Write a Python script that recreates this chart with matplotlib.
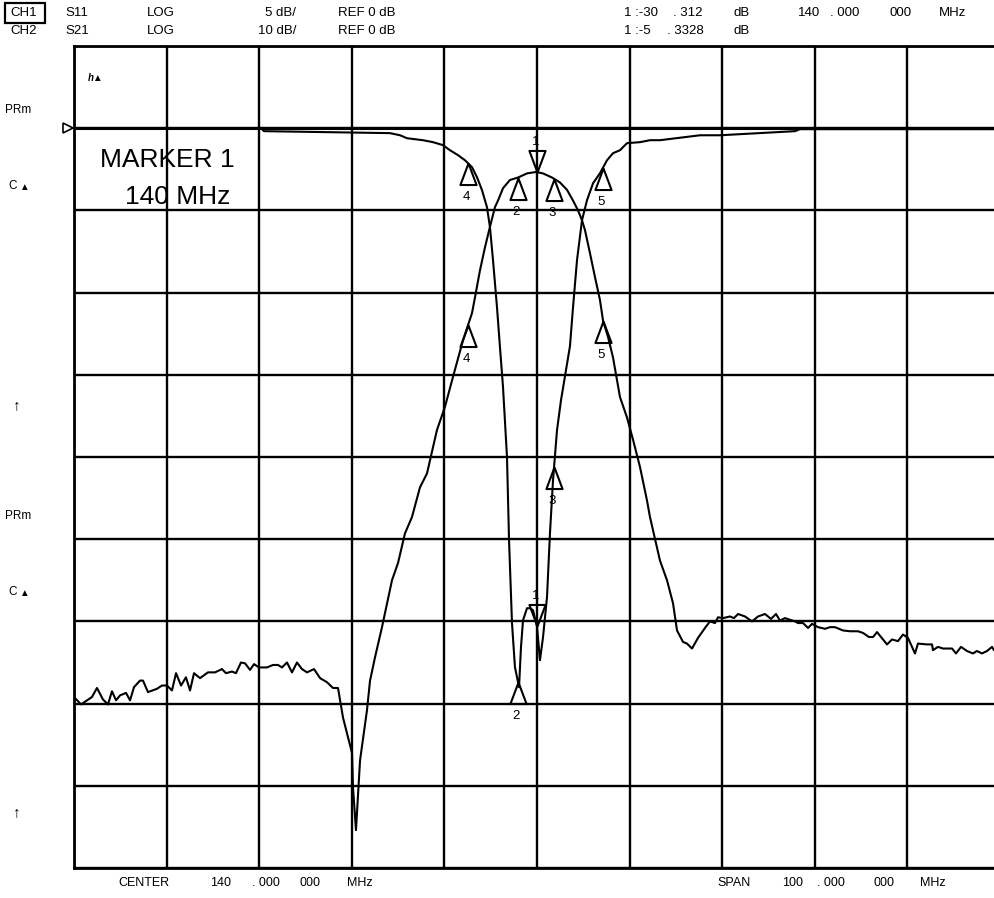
import numpy as np
import matplotlib
matplotlib.use("Agg")
import matplotlib.pyplot as plt

plt.rcParams['font.family'] = ['Liberation Sans', 'DejaVu Sans']

W, H = 994, 898

# CH2 S21 trace (MHz, dB), 10 dB/div
s21_freq = [90.00, 90.76, 91.94, 92.48, 93.13, 93.67, 94.10, 94.54, 94.97, 95.62,
            96.05, 96.48, 97.13, 97.45, 97.99, 98.96, 99.50, 100.04, 100.58, 101.02,
            101.56, 102.09, 102.53, 102.96, 103.61, 104.47, 105.23, 105.98, 106.41, 107.06,
            107.49, 108.03, 108.47, 109.01, 109.44, 109.98, 110.84, 111.49, 112.03, 112.46,
            113.00, 113.54, 114.08, 114.62, 115.16, 115.92, 116.57, 117.32, 117.97, 118.51,
            119.05, 120.02, 120.13, 120.45, 120.89, 121.64, 121.97, 122.50, 123.26, 124.34,
            124.99, 125.74, 126.50, 127.36, 128.12, 129.20, 130.06, 130.82, 132.01, 132.98,
            133.30, 133.84, 134.38, 134.92, 135.46, 135.79, 136.33, 137.08, 137.95, 138.92,
            139.89, 140.65, 141.62, 142.48, 143.24, 143.89, 144.43, 144.86, 145.18, 145.72,
            146.26, 146.80, 147.13, 147.67, 148.21, 148.96, 149.72, 150.37, 151.12, 151.88,
            152.20, 153.28, 154.04, 154.69, 155.12, 155.77, 156.20, 156.74, 157.39, 158.14,
            158.68, 159.22, 159.55, 160.09, 160.84, 161.27, 161.71, 162.46, 163.22, 163.87,
            164.62, 165.27, 165.81, 166.24, 166.78, 167.86, 168.19, 168.73, 169.27, 169.70,
            170.35, 171.10, 171.64, 172.18, 173.04, 173.80, 174.66, 175.20, 175.85, 176.29,
            176.72, 177.80, 178.34, 178.98, 179.52, 180.06, 180.82, 181.14, 182.12, 182.66,
            182.76, 183.30, 183.84, 184.82, 185.25, 185.79, 186.43, 187.08, 187.51, 188.05,
            188.60, 189.14, 189.35, 190.00]
s21_db = [-69.2, -70.1, -69.2, -68.1, -69.5, -70.1, -68.5, -69.6, -69.0, -68.7,
          -69.6, -68.0, -67.2, -67.2, -68.6, -68.2, -67.8, -67.8, -68.4, -66.3,
          -67.8, -66.8, -68.4, -66.3, -66.9, -66.2, -66.2, -65.8, -66.3, -66.1,
          -66.3, -65.0, -65.1, -65.9, -65.2, -65.6, -65.6, -65.3, -65.3, -65.6,
          -65.0, -66.2, -65.0, -65.8, -66.2, -65.8, -66.9, -67.4, -68.1, -68.1,
          -71.7, -76.0, -80.2, -85.4, -76.9, -70.8, -67.2, -64.4, -60.7, -55.0,
          -52.9, -49.3, -47.3, -43.7, -42.0, -36.7, -33.9, -30.7, -25.8, -22.5,
          -20.6, -17.3, -14.5, -12.0, -9.6, -8.8, -7.3, -6.3, -6.0, -5.5,
          -5.33, -5.5, -6.0, -6.6, -7.5, -8.8, -10.0, -11.2, -12.4, -15.2,
          -18.1, -20.9, -23.4, -25.4, -27.9, -32.7, -35.2, -37.9, -41.2, -45.3,
          -47.3, -52.6, -55.0, -57.8, -61.1, -62.5, -62.7, -63.3, -62.0, -60.8,
          -60.0, -60.2, -59.5, -59.6, -59.4, -59.6, -59.1, -59.4, -60.0, -59.4,
          -59.1, -59.7, -59.1, -59.9, -59.6, -60.0, -60.2, -60.2, -60.8, -60.3,
          -60.7, -60.9, -60.7, -60.7, -61.1, -61.2, -61.2, -61.4, -61.9, -61.9,
          -61.3, -62.8, -62.2, -62.4, -61.6, -62.0, -63.9, -62.7, -62.8, -62.8,
          -63.5, -63.1, -63.3, -63.3, -63.9, -63.1, -63.6, -63.9, -63.6, -63.9,
          -63.6, -63.1, -63.5, -63.3]

# CH1 S11 trace (MHz, dB), 5 dB/div
s11_freq = [90.00, 110.19, 110.52, 124.12, 125.21, 125.96, 127.69, 128.77, 129.85, 130.60,
            131.47, 132.22, 132.98, 133.52, 134.06, 134.60, 134.92, 135.25, 135.68, 136.00,
            136.33, 136.76, 136.98, 137.30, 137.62, 138.06, 138.27, 138.49, 138.92, 139.24,
            139.57, 140.00, 140.32, 140.65, 141.08, 141.40, 141.73, 142.16, 142.59, 143.56,
            143.89, 144.32, 144.86, 145.40, 146.05, 146.80, 147.56, 148.21, 148.96, 149.72,
            151.12, 152.20, 153.28, 157.60, 159.76, 167.86, 168.40, 190.00]
s11_db = [0.0, 0.0, -0.18, -0.30, -0.43, -0.61, -0.73, -0.85, -1.03, -1.34,
          -1.64, -1.95, -2.37, -2.98, -3.77, -4.81, -6.02, -8.03, -10.89, -13.32,
          -15.75, -20.01, -25.06, -30.11, -32.79, -34.00, -31.57, -29.93, -29.20, -29.20,
          -29.32, -30.31, -32.36, -30.96, -28.53, -24.64, -21.41, -18.37, -16.55, -13.26,
          -10.89, -8.03, -5.60, -4.38, -3.35, -2.74, -1.95, -1.52, -1.34, -0.91,
          -0.85, -0.73, -0.73, -0.43, -0.43, -0.18, -0.06, -0.06]

marker_names = ['1', '2', '3', '4', '5']
marker_freq = [140.00, 137.95, 141.84, 132.55, 147.13]


def px(x, y):
    return x / W, 1 - y / H


fig = plt.figure(figsize=(W / 100, H / 100), dpi=100)
ax = fig.add_axes([74 / W, 1 - 868 / H, 926 / W, 822 / H])
ax.set_xlim(90, 190)
ax.set_ylim(-90, 10)
ax.set_xticks(np.arange(90, 191, 10))
ax.set_yticks(np.arange(-90, 11, 10))
ax.grid(True, color='black', lw=1.7)
ax.tick_params(length=0, labelleft=False, labelbottom=False)
for s in ax.spines.values():
    s.set_linewidth(2.0)
ax.spines['right'].set_visible(False)
ax.axhline(0, color='black', lw=2.2)

ax2 = ax.twinx()
ax2.set_ylim(-45, 5)
ax2.axis('off')

ax.plot(s21_freq, s21_db, color='black', lw=1.5)
ax2.plot(s11_freq, s11_db, color='black', lw=1.5)

up_tri = [(0, 0), (-0.375, -1), (0.375, -1), (0, 0)]
dn_tri = [(0, 0), (-0.375, 1), (0.375, 1), (0, 0)]
for a, fx, fy in [(ax, s21_freq, s21_db), (ax2, s11_freq, s11_db)]:
    for name, f in zip(marker_names, marker_freq):
        y = np.interp(f, fx, fy)
        if name == '1':
            a.plot([f], [y], marker=dn_tri, ms=31, mfc='none', mec='black', mew=1.5)
            a.annotate(name, (f, y), xytext=(-1, 22), textcoords='offset points',
                       ha='center', va='center', fontsize=9.5)
        else:
            a.plot([f], [y], marker=up_tri, ms=31, mfc='none', mec='black', mew=1.5)
            a.annotate(name, (f, y), xytext=(-1.5, -24.5), textcoords='offset points',
                       ha='center', va='center', fontsize=9.5)

# reference position marker
ax.plot([89.3], [0], marker='>', ms=7, mfc='white', mec='black', mew=1.2, clip_on=False)

# header
fs = 9.5
row1, row2 = 13, 31
fig.add_artist(plt.Rectangle(px(5, 23), 40 / W, 20 / H, fill=False, lw=1.6,
                             transform=fig.transFigure))
head = [(10, row1, 'CH1'), (65, row1, 'S11'), (147, row1, 'LOG'), (265, row1, '5 dB/'),
        (338, row1, 'REF 0 dB'), (624, row1, '1 :-30'), (673, row1, '. 312'),
        (733, row1, 'dB'), (798, row1, '140'), (830, row1, '. 000'), (890, row1, '000'),
        (939, row1, 'MHz'),
        (10, row2, 'CH2'), (65, row2, 'S21'), (147, row2, 'LOG'), (258, row2, '10 dB/'),
        (338, row2, 'REF 0 dB'), (624, row2, '1 :-5'), (667, row2, '. 3328'),
        (733, row2, 'dB')]
for x, y, t in head:
    fig.text(*px(x, y), t, fontsize=fs, va='center', ha='left')

# footer
foot = [(118, 'CENTER'), (210, '140'), (252, '. 000'), (299, '000'), (347, 'MHz'),
        (717, 'SPAN'), (782, '100'), (817, '. 000'), (873, '000'), (920, 'MHz')]
for x, t in foot:
    fig.text(*px(x, 883), t, fontsize=9, va='center', ha='left')

# left annotations
for y in (110, 516):
    fig.text(*px(5, y), 'PRm', fontsize=8.5, va='center')
for y in (186, 592):
    fig.text(*px(8, y), 'C', fontsize=8.5, va='center')
    fig.text(*px(19, y + 1), '\u25b2', fontsize=7, va='center')
for y in (405, 812):
    fig.text(*px(13, y), '\u2191', fontsize=11, va='center', fontweight='bold')
fig.text(*px(88, 78), 'h\u25b2', fontsize=7, va='center', style='italic', fontweight='bold')

fig.text(*px(100, 160), 'MARKER 1', fontsize=19, va='center')
fig.text(*px(125, 197), '140 MHz', fontsize=19, va='center')

fig.savefig('out.png', dpi=100, facecolor='white')
